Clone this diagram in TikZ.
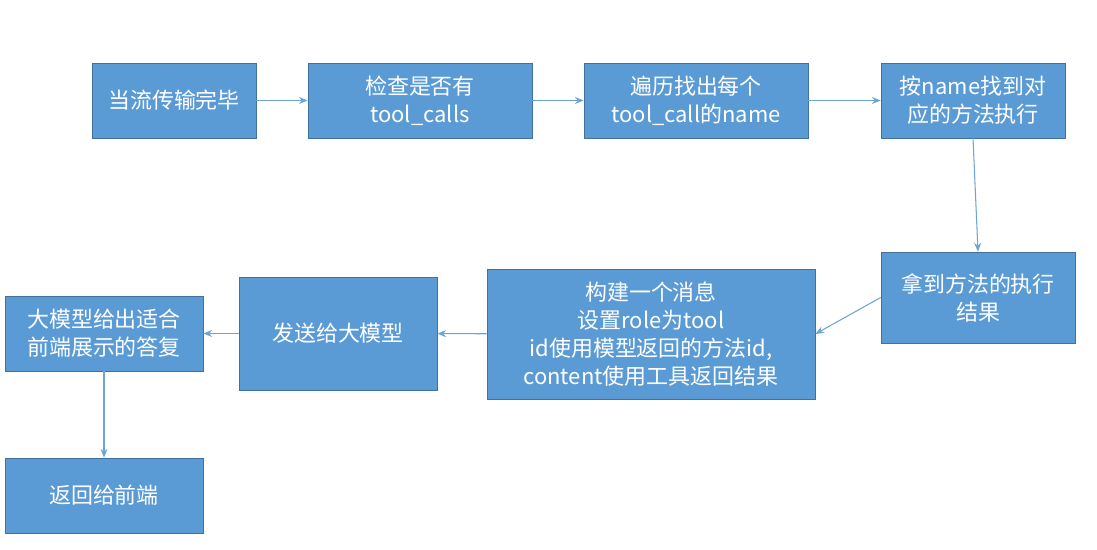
\documentclass[tikz,border=0pt]{standalone}
\usepackage{fontspec}
\setmainfont{Noto Sans CJK SC}
\usetikzlibrary{arrows.meta, positioning}
\definecolor{boxfill}{RGB}{91,155,213}
\definecolor{boxline}{RGB}{65,113,156}
\definecolor{flowline}{RGB}{110,165,215}

\tikzset{
    stepbox/.style={draw=boxline,fill=boxfill,text=white,align=center,
        font=\fontsize{12.5}{16}\selectfont,inner sep=2pt,minimum height=1.5cm},
    flow/.style={-{Stealth[length=5pt,width=4pt]},flowline,line width=0.6pt}
}

\begin{document}
\begin{tikzpicture}[x=0.02cm,y=-0.02cm]
    \useasboundingbox[fill=white] (0,0) rectangle (1097,550);

    % top row
    \node[stepbox,minimum width=3.28cm] (done) at (174,100.5) {当流传输完毕};
    \node[stepbox,minimum width=4.48cm] (check) at (420,100.5) {检查是否有\\tool\_calls};
    \node[stepbox,minimum width=4.48cm] (each) at (696,100.5) {遍历找出每个\\tool\_call的name};
    \node[stepbox,minimum width=3.68cm] (find) at (973,100.5) {按name找到对\\应的方法执行};

    % middle row
    \node[stepbox,minimum width=3.88cm,minimum height=1.82cm] (result) at (978,297.5) {拿到方法的执行\\结果};
    \node[stepbox,minimum width=6.56cm,minimum height=2.6cm] (msg) at (651,334) {构建一个消息\\设置role为tool\\id使用模型返回的方法id,\\content使用工具返回结果};
    \node[stepbox,minimum width=3.96cm,minimum height=2.26cm] (send) at (338,333.5) {发送给大模型};
    \node[stepbox,minimum width=3.96cm] (reply) at (104,333.5) {大模型给出适合\\前端展示的答复};

    % bottom
    \node[stepbox,minimum width=3.96cm] (back) at (104,495.5) {返回给前端};

    % arrows
    \draw[flow] (done) -- (check);
    \draw[flow] (check) -- (each);
    \draw[flow] (each) -- (find);
    \draw[flow] (find.south) -- (result.north);
    \draw[flow] (result.west) -- (msg.east);
    \draw[flow] (msg) -- (send);
    \draw[flow] (send) -- (reply);
    \draw[flow] (reply) -- (back);
\end{tikzpicture}
\end{document}
